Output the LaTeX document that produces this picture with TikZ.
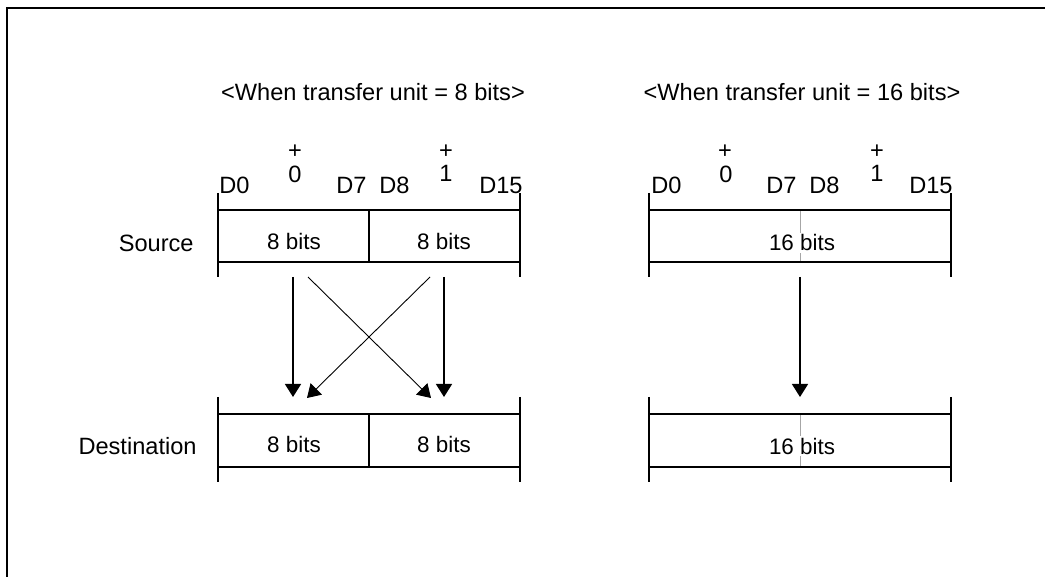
\documentclass[tikz,border=0pt]{standalone}
\usepackage{fontspec}
\setmainfont{Liberation Sans}
\usetikzlibrary{arrows.meta}
\begin{document}
\begin{tikzpicture}[x=0.5pt,y=-0.5pt,
  lbl/.style={inner sep=0pt,anchor=base,font=\fontsize{11.8}{13}\selectfont},
  boxtxt/.style={inner sep=0pt,anchor=base,font=\fontsize{11.2}{12}\selectfont},
  wbox/.style={boxtxt,fill=white,inner sep=1pt},
  bar/.style={line width=1pt},
  mid/.style={line width=0.5pt,draw=gray!70},
  varrow/.style={line width=0.75pt,-{Triangle[length=6.5pt,width=8pt]}},
  darrow/.style={line width=0.45pt,-{Triangle[length=6.5pt,width=8pt]}},
  frame/.style={line width=0.8pt}]
\useasboundingbox (0,0) rectangle (1045,577);
\draw[frame] (7,577) -- (7,8) -- (1045,8);

% titles
\node[lbl,anchor=base] (t1) at (373,101) {<When transfer unit = 8 bits>};
\node[lbl,anchor=base] (t2) at (802,101) {<When transfer unit = 16 bits>};

% row labels
\node[lbl,anchor=base east] (src) at (194,252) {Source};
\node[lbl,anchor=base east] (dst) at (197,454) {Destination};

% ---------- left diagram ----------
\node[lbl] (lp0) at (295,159) {+};
\node[lbl] (l0) at (295,183) {0};
\node[lbl] (lp1) at (446,159) {+};
\node[lbl] (l1) at (446,182) {1};
\node[lbl,anchor=base west] (lD0) at (219,194) {D0};
\node[lbl,anchor=base east] (lD7) at (367,194) {D7};
\node[lbl,anchor=base west] (lD8) at (379,194) {D8};
\node[lbl,anchor=base east] (lD15) at (523,194) {D15};

% source box
\draw[bar] (218,193) -- (218,277);
\draw[bar] (520,193) -- (520,277);
\draw[bar] (218,210) -- (520,210);
\draw[bar] (218,262) -- (520,262);
\draw[bar] (369,210) -- (369,262);
\node[boxtxt] (ls1) at (294,250) {8 bits};
\node[boxtxt] (ls2) at (444,250) {8 bits};

% destination box
\draw[bar] (218,397) -- (218,482);
\draw[bar] (520,397) -- (520,482);
\draw[bar] (218,414) -- (520,414);
\draw[bar] (218,467) -- (520,467);
\draw[bar] (369,414) -- (369,467);
\node[boxtxt] (ld1) at (294,452) {8 bits};
\node[boxtxt] (ld2) at (444,452) {8 bits};

% arrows
\coordinate (a1s) at (293,277); \coordinate (a1e) at (293,397);
\coordinate (a2s) at (444,277); \coordinate (a2e) at (444,397);
\coordinate (a3s) at (308,277); \coordinate (a3e) at (431,398);
\coordinate (a4s) at (430,277); \coordinate (a4e) at (307,398);
\draw[varrow] (a1s) -- (a1e);
\draw[varrow] (a2s) -- (a2e);
\draw[darrow] (a3s) -- (a3e);
\draw[darrow] (a4s) -- (a4e);

% ---------- right diagram ----------
\node[lbl] (rp0) at (725,159) {+};
\node[lbl] (r0) at (726,183) {0};
\node[lbl] (rp1) at (877,159) {+};
\node[lbl] (r1) at (877,182) {1};
\node[lbl,anchor=base west] (rD0) at (651,194) {D0};
\node[lbl,anchor=base east] (rD7) at (797,194) {D7};
\node[lbl,anchor=base west] (rD8) at (809,194) {D8};
\node[lbl,anchor=base east] (rD15) at (953,194) {D15};

% source box
\draw[bar] (649,193) -- (649,277);
\draw[bar] (951,193) -- (951,277);
\draw[mid] (800,210) -- (800,262);
\draw[bar] (649,210) -- (951,210);
\draw[bar] (649,262) -- (951,262);
\node[wbox] (rs) at (802,251) {16 bits};

% destination box
\draw[bar] (649,397) -- (649,482);
\draw[bar] (951,397) -- (951,482);
\draw[mid] (800,414) -- (800,467);
\draw[bar] (649,414) -- (951,414);
\draw[bar] (649,467) -- (951,467);
\node[wbox] (rd) at (802,454) {16 bits};

\coordinate (r1s) at (800,277); \coordinate (r1e) at (800,397);
\draw[varrow] (r1s) -- (r1e);
\end{tikzpicture}
\end{document}
